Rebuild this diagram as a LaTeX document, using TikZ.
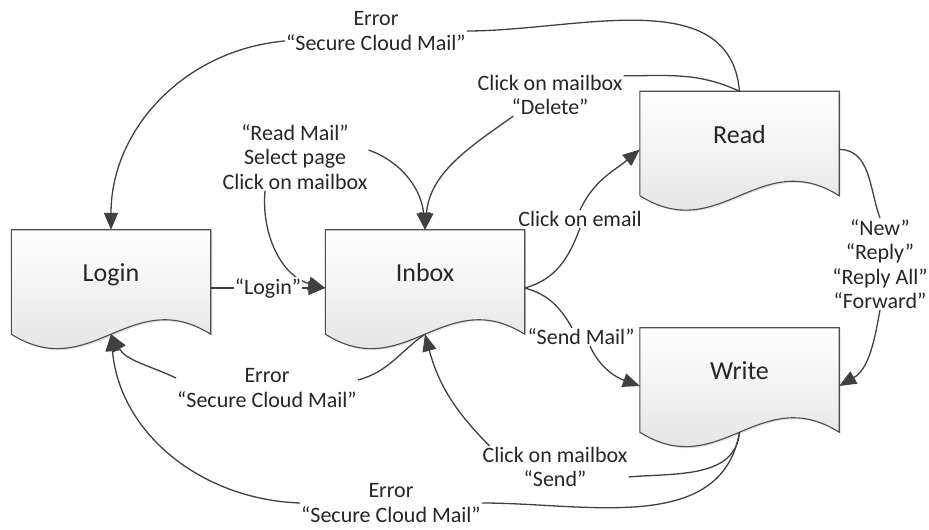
\documentclass[tikz,border=0pt]{standalone}
\usepackage{fontspec}
\setmainfont{Carlito}
\usetikzlibrary{arrows.meta,calc,backgrounds,shadows}

\begin{document}
\begin{tikzpicture}[x=1pt,y=1pt,
  doc/.style={minimum width=199pt,minimum height=104pt,inner sep=0pt,text height=10pt,text depth=10pt,font=\fontsize{26}{28}\selectfont,text=black!85},
  lbl/.style={align=center,inner sep=1pt,fill=white,font=\fontsize{22}{24.5}\selectfont,text=black!85},
  link/.style={draw=black!75,line width=1.3pt},
  arr/.style={link,-{Triangle[length=17pt,width=14pt]}}]
\useasboundingbox (0,0) rectangle (929,530);

\node[doc] (login) at (111,248) {Login};
\node[doc] (inbox) at (425,248) {Inbox};
\node[doc] (read) at (739.5,386.5) {Read};
\node[doc] (write) at (739.5,150) {Write};

\begin{scope}[on background layer]
\foreach \n in {login,inbox,read,write}{
  \draw[draw=black!70,line width=1.1pt,top color=white,bottom color=black!13,
        drop shadow={shadow xshift=1.5pt,shadow yshift=-1.5pt,fill=black!40,opacity=0.3}]
    (\n.south west) -- (\n.north west) -- (\n.north east) -- (\n.south east)
    .. controls ($(\n.south east)!0.4!(\n.south west)+(0,50)$) and ($(\n.south east)!0.6!(\n.south west)+(0,-50)$) .. (\n.south west) -- cycle;
}
\end{scope}

\node[lbl] (errtop) at (376,499) {Error\\“Secure Cloud Mail”};
\node[lbl] (delete) at (550,435) {Click on mailbox\\“Delete”};
\node[lbl] (readmail) at (295,373) {“Read Mail”\\Select page\\Click on mailbox};
\node[lbl] (email) at (580,311) {Click on email};
\node[lbl] (sendmail) at (581,193) {“Send Mail”};
\node[lbl] (reply) at (880,266) {“New”\\“Reply”\\“Reply All”\\“Forward”};
\node[lbl] (errmid) at (267,142) {Error\\“Secure Cloud Mail”};
\node[lbl] (send) at (555,63) {Click on mailbox\\“Send”};
\node[lbl] (errbot) at (391,27) {Error\\“Secure Cloud Mail”};

\draw[link] (read.north) to[out=95,in=0] (errtop.east);
\draw[arr] ([yshift=-10pt]errtop.west) to[out=185,in=90] (login.north);
\draw[link] (read.north) to[out=155,in=0] ([yshift=-2pt]delete.north east);
\draw[arr] (delete.-150) to[out=215,in=85] (inbox.north);
\draw[arr] ([yshift=7pt]readmail.east) to[out=-20,in=95] (inbox.north);
\draw[arr] ([xshift=-30pt]readmail.south) to[out=-95,in=165] ([yshift=-6pt]inbox.west);
\draw[arr] ([yshift=-6pt]login.east) -- node[lbl] (loginlbl) {“Login”} ([yshift=-6pt]inbox.west);
\draw[link] ([yshift=-6pt]inbox.east) to[out=15,in=-110] (email.south);
\draw[arr] (email.north) to[out=65,in=220] ([yshift=-6pt]read.west);
\draw[link] ([yshift=-6pt]inbox.east) to[out=-15,in=120] ([xshift=-9pt]sendmail.north);
\draw[arr] ([xshift=9pt]sendmail.south) to[out=-65,in=160] ([yshift=-6pt]write.west);
\draw[link] ([yshift=-6pt]read.east) to[out=0,in=110] (reply.north);
\draw[arr] (reply.south) to[out=-100,in=30] ([yshift=-6pt]write.east);
\draw[link] (inbox.south) to[out=215,in=15] ([yshift=8pt]errmid.east);
\draw[arr] ([yshift=10pt]errmid.west) to[out=155,in=-60] (login.south);
\draw[link] (write.south) to[out=-95,in=5] ([yshift=-10pt]send.east);
\draw[arr] ([xshift=8pt]send.north west) to[out=135,in=-75] (inbox.south);
\draw[link] (write.south) to[out=-100,in=0] (errbot.east);
\draw[arr] (errbot.west) to[out=178,in=-85] (login.south);
\end{tikzpicture}
\end{document}
